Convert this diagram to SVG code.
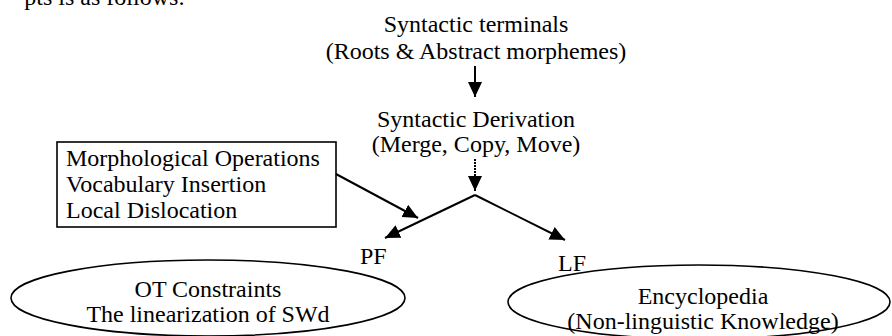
<svg xmlns="http://www.w3.org/2000/svg" width="892" height="336" viewBox="0 0 892 336">
<style>
text{font-family:"Liberation Serif","Times New Roman",serif;font-size:24px;fill:#000}
.c{text-anchor:middle}
.ln{stroke:#000;stroke-width:2;fill:none}
.sh{stroke:#000;stroke-width:1.6;fill:#fff}
</style>
<defs>
<marker id="ah" viewBox="0 0 15 14" refX="15" refY="7" markerWidth="15" markerHeight="14" markerUnits="userSpaceOnUse" orient="auto">
<path d="M0,0 L15,7 L0,14 z" fill="#000"/>
</marker>
</defs>
<rect width="892" height="336" fill="#fff"/>
<text x="185" y="5" text-anchor="end">pts is as follows:</text>
<g id="terminals">
<text class="c" x="476" y="32">Syntactic terminals</text>
<text class="c" x="476" y="59">(Roots &amp; Abstract morphemes)</text>
</g>
<g id="derivation">
<text class="c" x="476" y="127">Syntactic Derivation</text>
<text class="c" x="476" y="152">(Merge, Copy, Move)</text>
</g>
<g id="operations">
<rect class="sh" x="57" y="142" width="279" height="85"/>
<text x="66" y="166">Morphological Operations</text>
<text x="66" y="192">Vocabulary Insertion</text>
<text x="66" y="218">Local Dislocation</text>
</g>
<g id="pf">
<text x="360" y="264">PF</text>
</g>
<g id="lf">
<text x="558" y="271">LF</text>
</g>
<g id="ot">
<ellipse class="sh" cx="208" cy="298" rx="197" ry="38"/>
<text class="c" x="208" y="297">OT Constraints</text>
<text class="c" x="208" y="322">The linearization of SWd</text>
</g>
<g id="encyclopedia">
<ellipse class="sh" cx="699" cy="302" rx="191" ry="37"/>
<text class="c" x="703" y="304">Encyclopedia</text>
<text class="c" x="703" y="329">(Non-linguistic Knowledge)</text>
</g>
<g id="connectors">
<line class="ln" x1="475" y1="66" x2="475" y2="97" marker-end="url(#ah)"/>
<line class="ln" x1="475" y1="159" x2="475" y2="191" stroke-dasharray="2,1" marker-end="url(#ah)"/>
<line class="ln" x1="475" y1="195" x2="385" y2="238" marker-end="url(#ah)"/>
<line class="ln" x1="475" y1="195" x2="565" y2="240" marker-end="url(#ah)"/>
<line class="ln" x1="336" y1="174" x2="418" y2="218" marker-end="url(#ah)"/>
</g>
</svg>
